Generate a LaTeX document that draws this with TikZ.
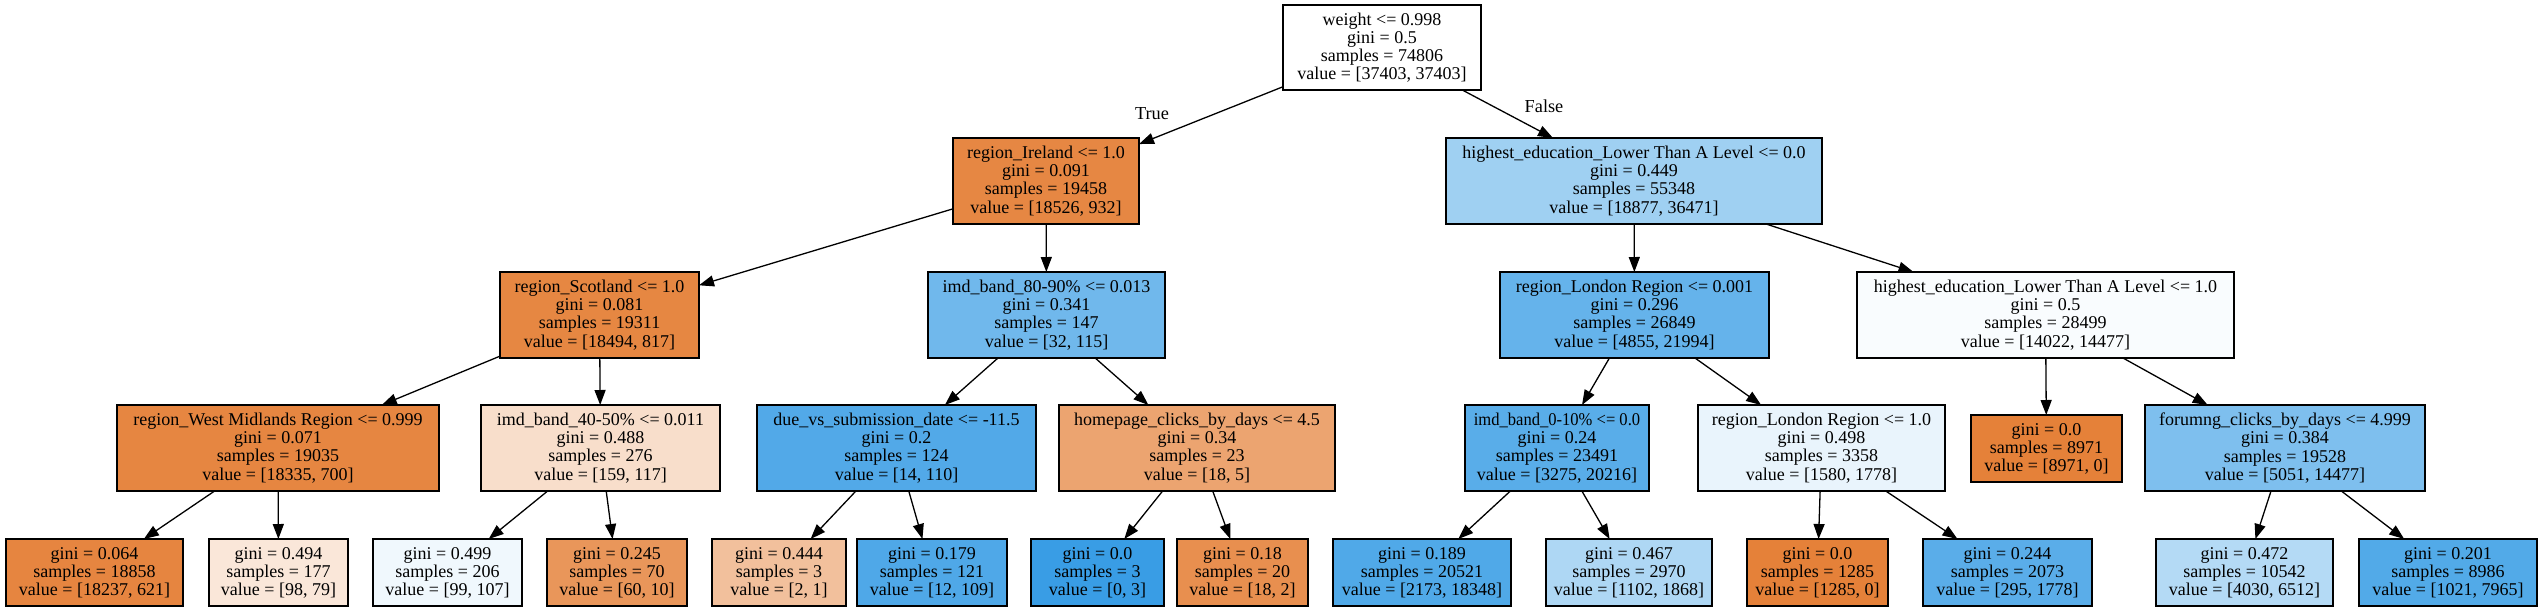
\documentclass[tikz,border=0pt]{standalone}
\usepackage{fontspec}
\usepackage{graphicx}
\setmainfont{Liberation Serif}
\usetikzlibrary{arrows.meta}
\tikzset{
  tbox/.style={draw=black, line width=1.3pt, inner sep=0pt, outer sep=0pt, align=center,
    font={\fontsize{18pt}{18.1pt}\selectfont}},
  edge/.style={draw=black, line width=1.3pt, -{Triangle[length=15pt,width=11pt]}},
  elabel/.style={inner sep=0pt, font={\fontsize{18.3pt}{18.1pt}\selectfont}}
}
\newcommand\mybox[9]{%
  \node[tbox, fill={rgb,255:red,#6;green,#7;blue,#8},
        minimum width={#3-#2}, minimum height={#5-#4}]
        (#1) at ({(#2+#3)/2},{(#4+#5)/2}) {#9};}
\begin{document}
\begin{tikzpicture}[x=1pt,y=-1pt]
\useasboundingbox[fill=white] (0,0) rectangle (2542,611);
% level 0
\mybox{root}{1283}{1481}{5}{90}{255}{255}{255}{weight <= 0.998\\gini = 0.5\\samples = 74806\\value = [37403, 37403]}
% level 1
\mybox{ire}{953}{1139}{138}{224}{230}{135}{67}{region\_Ireland <= 1.0\\gini = 0.091\\samples = 19458\\value = [18526, 932]}
\mybox{heA}{1446}{1822}{138}{224}{159}{208}{242}{highest\_education\_Lower Than A Level <= 0.0\\gini = 0.449\\samples = 55348\\value = [18877, 36471]}
% level 2
\mybox{sco}{500}{699}{272}{358}{230}{135}{66}{region\_Scotland <= 1.0\\gini = 0.081\\samples = 19311\\value = [18494, 817]}
\mybox{imdA}{928}{1165}{272}{358}{112}{184}{236}{imd\_band\_80-90\% <= 0.013\\gini = 0.341\\samples = 147\\value = [32, 115]}
\mybox{lonA}{1500}{1769}{272}{358}{101}{179}{235}{region\_London Region <= 0.001\\gini = 0.296\\samples = 26849\\value = [4855, 21994]}
\mybox{heB}{1857}{2234}{272}{358}{249}{252}{254}{highest\_education\_Lower Than A Level <= 1.0\\gini = 0.5\\samples = 28499\\value = [14022, 14477]}
% level 3
\mybox{wm}{117}{439}{405}{491}{230}{134}{65}{region\_West Midlands Region <= 0.999\\gini = 0.071\\samples = 19035\\value = [18335, 700]}
\mybox{imdB}{481}{720}{405}{491}{248}{222}{203}{imd\_band\_40-50\% <= 0.011\\gini = 0.488\\samples = 276\\value = [159, 117]}
\mybox{due}{757}{1036}{405}{491}{82}{169}{232}{due\_vs\_submission\_date <= -11.5\\gini = 0.2\\samples = 124\\value = [14, 110]}
\mybox{hom}{1059}{1335}{405}{491}{236}{164}{112}{homepage\_clicks\_by\_days <= 4.5\\gini = 0.34\\samples = 23\\value = [18, 5]}
\mybox{imdC}{1465}{1649}{405}{491}{89}{173}{233}{\scalebox{0.92}[1]{imd\_band\_0-10\% <= 0.0}\\gini = 0.24\\samples = 23491\\value = [3275, 20216]}
\mybox{lonB}{1698}{1945}{405}{491}{233}{244}{252}{region\_London Region <= 1.0\\gini = 0.498\\samples = 3358\\value = [1580, 1778]}
\mybox{gz}{1971}{2122}{415}{482}{229}{129}{57}{gini = 0.0\\samples = 8971\\value = [8971, 0]}
\mybox{fcl}{2145}{2425}{405}{491}{126}{191}{238}{forumng\_clicks\_by\_days <= 4.999\\gini = 0.384\\samples = 19528\\value = [5051, 14477]}
% level 4
\mybox{la}{6}{183}{539}{606}{230}{133}{64}{gini = 0.064\\samples = 18858\\value = [18237, 621]}
\mybox{lb}{209}{348}{539}{606}{250}{231}{217}{gini = 0.494\\samples = 177\\value = [98, 79]}
\mybox{lc}{373}{522}{539}{606}{240}{248}{253}{gini = 0.499\\samples = 206\\value = [99, 107]}
\mybox{ld}{547}{687}{539}{606}{233}{150}{90}{gini = 0.245\\samples = 70\\value = [60, 10]}
\mybox{le}{712}{846}{539}{606}{242}{192}{156}{gini = 0.444\\samples = 3\\value = [2, 1]}
\mybox{lf}{857}{1007}{539}{606}{79}{168}{232}{gini = 0.179\\samples = 121\\value = [12, 109]}
\mybox{lg}{1031}{1164}{539}{606}{57}{157}{229}{gini = 0.0\\samples = 3\\value = [0, 3]}
\mybox{lh}{1177}{1308}{539}{606}{232}{143}{79}{gini = 0.18\\samples = 20\\value = [18, 2]}
\mybox{li}{1333}{1511}{539}{606}{80}{169}{232}{gini = 0.189\\samples = 20521\\value = [2173, 18348]}
\mybox{lj}{1546}{1712}{539}{606}{174}{215}{244}{gini = 0.467\\samples = 2970\\value = [1102, 1868]}
\mybox{lk}{1747}{1888}{539}{606}{229}{129}{57}{gini = 0.0\\samples = 1285\\value = [1285, 0]}
\mybox{ll}{1923}{2092}{539}{606}{90}{173}{233}{gini = 0.244\\samples = 2073\\value = [295, 1778]}
\mybox{lm}{2156}{2333}{539}{606}{180}{218}{245}{gini = 0.472\\samples = 10542\\value = [4030, 6512]}
\mybox{ln}{2359}{2537}{539}{606}{82}{170}{232}{gini = 0.201\\samples = 8986\\value = [1021, 7965]}
% edges
\draw[edge] (root) -- (ire);
\draw[edge] (root) -- (heA);
\draw[edge] (ire) -- (sco);
\draw[edge] (ire) -- (imdA);
\draw[edge] (sco) -- (wm);
\draw[edge] (sco) -- (imdB);
\draw[edge] (wm) -- (la);
\draw[edge] (wm) -- (lb);
\draw[edge] (imdB) -- (lc);
\draw[edge] (imdB) -- (ld);
\draw[edge] (imdA) -- (due);
\draw[edge] (imdA) -- (hom);
\draw[edge] (due) -- (le);
\draw[edge] (due) -- (lf);
\draw[edge] (hom) -- (lg);
\draw[edge] (hom) -- (lh);
\draw[edge] (heA) -- (lonA);
\draw[edge] (heA) -- (heB);
\draw[edge] (lonA) -- (imdC);
\draw[edge] (lonA) -- (lonB);
\draw[edge] (imdC) -- (li);
\draw[edge] (imdC) -- (lj);
\draw[edge] (lonB) -- (lk);
\draw[edge] (lonB) -- (ll);
\draw[edge] (heB) -- (gz);
\draw[edge] (heB) -- (fcl);
\draw[edge] (fcl) -- (lm);
\draw[edge] (fcl) -- (ln);
% edge labels
\node[elabel] (ltrue) at (1152,113.5) {True};
\node[elabel] (lfalse) at (1544,106.5) {False};
\end{tikzpicture}
\end{document}
